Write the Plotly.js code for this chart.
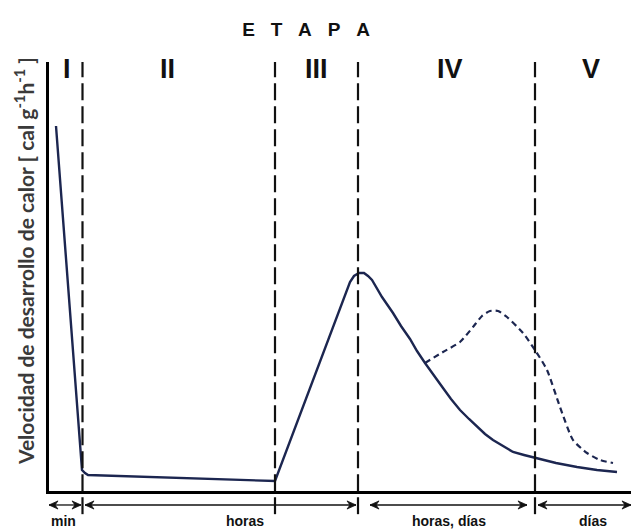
<!DOCTYPE html>
<html>
<head>
<meta charset="utf-8">
<script src="https://cdn.plot.ly/plotly-3.0.1.min.js"></script>
<style>html,body{margin:0;padding:0;background:#fff;}#chart{width:631px;height:531px;}</style>
</head>
<body>
<div id="chart"></div>
<script>
// Main heat-release curve (arbitrary time units, arbitrary rate units)
var mainX = [7, 33, 36, 39, 226, 301, 305, 310, 315, 319, 323, 333, 344, 352, 361, 368, 376, 385, 394, 402, 411, 420, 428, 436, 444, 454, 464, 475, 486, 507, 528, 548, 568];
var mainY = [365, 21, 18, 16, 10, 209, 215, 218, 218, 215, 211, 194, 178, 165, 152, 140, 128, 115, 103, 92, 81, 72, 64, 57, 51, 45, 39, 36, 33, 28, 24, 21, 19];
// Alternative (dashed) curve with second peak
var altX = [376, 394, 411, 424, 433, 441, 449, 458, 474, 486, 498, 511, 524, 538, 551, 564];
var altY = [128, 139, 149, 164, 175, 180, 180, 174, 158, 141, 121, 84, 51, 38, 31, 28];
// Stage boundaries
var stageBounds = [33.5, 226, 309, 486];
// Stage labels
var stageLabels = ['I', 'II', 'III', 'IV', 'V'];
var stageLabelX = [18, 118, 267, 401, 542];
// Time-scale arrows
var spanLabels = ['min', 'horas', 'horas, días', 'días'];
var spanStart = [0, 36, 321, 489];
var spanEnd = [32, 307, 478, 582];
var spanLabelX = [14, 196, 400, 544];

var xRange = [0, 582];
var yRange = [0, 429];

var traces = [
  {x: mainX, y: mainY, mode: 'lines', line: {color: '#1c2650', width: 2.4}, hoverinfo: 'skip'},
  {x: altX, y: altY, mode: 'lines', line: {color: '#1c2650', width: 2.2, dash: '6px,4px', shape: 'spline', smoothing: 0.6}, hoverinfo: 'skip'}
];

var shapes = stageBounds.map(function (b) {
  return {type: 'line', xref: 'x', yref: 'paper', x0: b, x1: b, y0: -0.054, y1: 1.0,
          line: {color: '#111', width: 2.2, dash: '17px,6px'}};
});

// arrows below the axis
var arrowY = -0.0326, headLen = 9, headNotch = 6, headH = 0.0095;
function head(xTip, dir) {
  var xb = xTip - dir * headLen, xn = xTip - dir * headNotch;
  return {type: 'path', xref: 'x', yref: 'paper', fillcolor: '#111', line: {color: '#111', width: 0.8},
    path: 'M' + xTip + ',' + arrowY + ' L' + xb + ',' + (arrowY + headH) + ' L' + xn + ',' + arrowY +
          ' L' + xb + ',' + (arrowY - headH) + ' Z'};
}
spanStart.forEach(function (s, i) {
  var e = spanEnd[i];
  shapes.push({type: 'line', xref: 'x', yref: 'paper', x0: s, x1: e, y0: arrowY, y1: arrowY,
    line: {color: '#111', width: 1.3}});
  shapes.push(head(s, -1));
  shapes.push(head(e, 1));
});

var numFont = {family: '"Liberation Sans Narrow", "Arial Narrow", "Liberation Sans", Arial, sans-serif', size: 27, color: '#111', weight: 700};
var lblFont = {family: '"Liberation Sans", Arial, sans-serif', size: 14, color: '#111', weight: 700};

var annotations = [];
stageLabels.forEach(function (t, i) {
  annotations.push({text: t, xref: 'x', yref: 'paper', x: stageLabelX[i], y: 0.9837,
    xanchor: 'center', yanchor: 'middle', showarrow: false, font: numFont});
});
spanLabels.forEach(function (t, i) {
  annotations.push({text: t, xref: 'x', yref: 'paper', x: spanLabelX[i], y: -0.071,
    xanchor: 'center', yanchor: 'middle', showarrow: false, font: lblFont});
});
annotations.push({text: 'Velocidad de desarrollo de calor [ cal g<sup>-1</sup>h<sup>-1</sup> ]',
  xref: 'paper', yref: 'paper', x: -0.043, y: 0.536, xanchor: 'center', yanchor: 'middle',
  textangle: -90, showarrow: false,
  font: {family: 'Lato, "Open Sans", sans-serif', size: 21, color: '#3a3a3a', weight: 700}});

var layout = {
  width: 631, height: 531,
  margin: {l: 49, r: 0, t: 62, b: 40, pad: 0},
  paper_bgcolor: '#fff', plot_bgcolor: '#fff',
  showlegend: false,
  title: {text: 'E\u00a0\u00a0\u00a0T\u00a0\u00a0\u00a0A\u00a0\u00a0\u00a0P\u00a0\u00a0\u00a0A',
    x: 0.485, xref: 'container', xanchor: 'center', y: 0.9444, yref: 'container', yanchor: 'middle',
    font: {family: '"Liberation Sans Narrow", "Arial Narrow", "Liberation Sans", Arial, sans-serif', size: 19, color: '#111', weight: 700}},
  xaxis: {range: xRange, showline: true, linecolor: '#000', linewidth: 3, showgrid: false, zeroline: false,
    showticklabels: false, ticks: '', fixedrange: true},
  yaxis: {range: yRange, showline: true, linecolor: '#000', linewidth: 3, showgrid: false, zeroline: false,
    showticklabels: false, ticks: '', fixedrange: true},
  shapes: shapes,
  annotations: annotations
};

Plotly.newPlot('chart', traces, layout, {displayModeBar: false, staticPlot: true});
</script>
</body>
</html>
